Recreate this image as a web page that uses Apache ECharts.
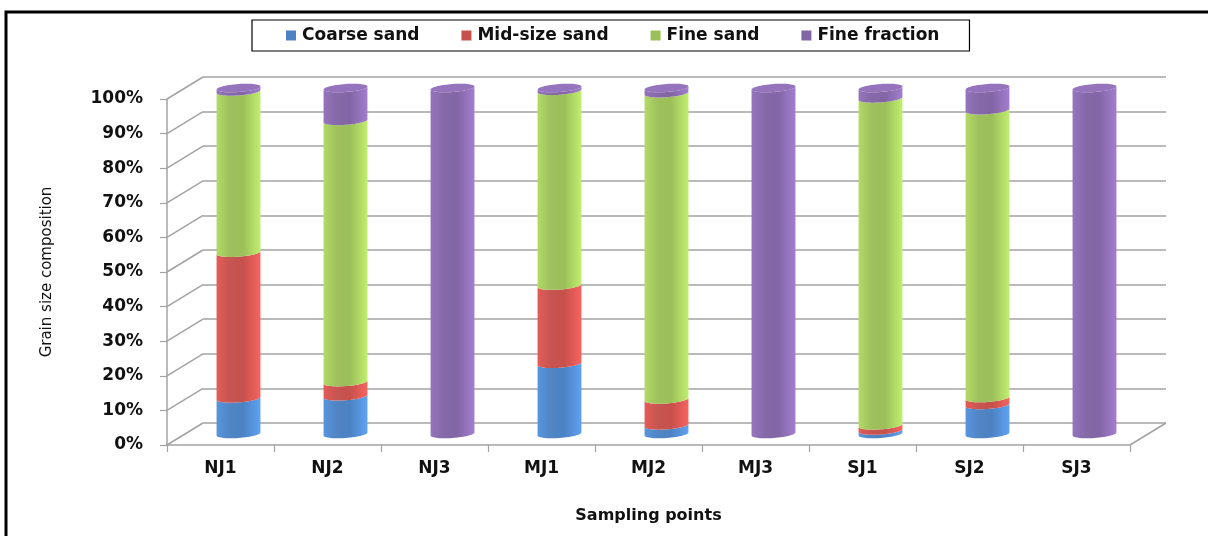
<!DOCTYPE html>
<html>
<head>
<meta charset="utf-8">
<script src="https://cdn.jsdelivr.net/npm/echarts@6/dist/echarts.min.js"></script>
<style>
  html, body { margin: 0; padding: 0; background: #fff; }
  #chart { width: 1208px; height: 536px; }
</style>
</head>
<body>
<div id="chart"></div>
<script>
// Sampling points and grain size shares (%)
const categories = ['NJ1', 'NJ2', 'NJ3', 'MJ1', 'MJ2', 'MJ3', 'SJ1', 'SJ2', 'SJ3'];
const coarseSand   = [10.3, 10.9, 0, 20.3, 2.5, 0, 1.0, 8.4, 0];
const midSizeSand  = [42.1, 4.1, 0, 22.6, 7.5, 0, 1.5, 2.0, 0];
const fineSand     = [46.6, 75.5, 0, 56.3, 88.5, 0, 94.5, 83.2, 0];
const fineFraction = [1.0, 9.5, 100, 0.8, 1.5, 100, 3.0, 6.4, 100];
const yTicks = [0, 10, 20, 30, 40, 50, 60, 70, 80, 90, 100];

const seriesDefs = [
  { name: 'Coarse sand',   values: coarseSand,   color: '#4C82C3' },
  { name: 'Mid-size sand', values: midSizeSand,  color: '#C6504C' },
  { name: 'Fine sand',     values: fineSand,     color: '#9BBF59' },
  { name: 'Fine fraction', values: fineFraction, color: '#8265A5' }
];

// Depth of the pseudo-3D box (back wall offset from the front plane)
const DX = 36, DY = -22;
const FRONT = { left: 167, right: 78, top: 99, bottom: 91 };
const BACK = { left: FRONT.left + DX, right: FRONT.right - DX, top: FRONT.top + DY, bottom: FRONT.bottom - DY };
const FONT = 'DejaVu Sans';
const GRID_COLOR = '#A3A3A3';

// Stack start/end per category
const stacks = [];
{
  const base = categories.map(() => 0);
  seriesDefs.forEach((s) => {
    const rows = [];
    s.values.forEach((v, i) => {
      if (v > 0) rows.push([i, base[i], base[i] + v]);
      base[i] += v;
    });
    stacks.push(rows);
  });
}
// last non-empty series per category gets the top cap
const topSeries = categories.map((c, i) => {
  let k = -1;
  seriesDefs.forEach((s, j) => { if (s.values[i] > 0) k = j; });
  return k;
});

const SHEAR = 0.07; // slight tilt of the elliptical edges
function arcPoints(cx, cy, rx, ry, from, to, n) {
  const pts = [];
  for (let k = 0; k <= n; k++) {
    const t = from + (to - from) * k / n;
    const x = cx + rx * Math.cos(t);
    const y = cy + ry * Math.sin(t) - (x - cx) * SHEAR;
    pts.push([x, y]);
  }
  return pts;
}

function shade(color) {
  return new echarts.graphic.LinearGradient(0, 0, 1, 0, [
    { offset: 0, color: echarts.color.lift(color, -0.15) },
    { offset: 0.3, color: echarts.color.lift(color, 0.03) },
    { offset: 0.6, color: color },
    { offset: 1, color: echarts.color.lift(color, -0.25) }
  ]);
}

function cylinderRenderer(seriesIndex) {
  const color = seriesDefs[seriesIndex].color;
  return function (params, api) {
    const cat = api.value(0);
    const start = api.value(1);
    const end = api.value(2);
    const cx = api.coord([cat, 0])[0] + DX / 2;
    const yb = api.coord([cat, start])[1] + DY / 2;
    const yt = api.coord([cat, end])[1] + DY / 2;
    const rx = api.size([1, 0])[0] * 0.205;
    const ry = 4;
    const pts = [[cx - rx, yt + rx * SHEAR]]
      .concat(arcPoints(cx, yb, rx, ry, Math.PI, 0, 30))
      .concat(arcPoints(cx, yt, rx, ry, 0, Math.PI, 30));
    const children = [{
      type: 'polygon',
      shape: { points: pts },
      style: { fill: shade(color) }
    }];
    if (topSeries[cat] === seriesIndex) {
      children.push({
        type: 'polygon',
        shape: { points: arcPoints(cx, yt, rx, ry, 0, Math.PI * 2, 60) },
        style: { fill: echarts.color.lift(color, -0.15) }
      });
    }
    return { type: 'group', children: children };
  };
}

const chart = echarts.init(document.getElementById('chart'), null, { renderer: 'canvas' });

const series = [
  // side-wall connectors and the floor edge
  {
    type: 'custom',
    xAxisIndex: 0, yAxisIndex: 0,
    silent: true,
    clip: false,
    z: 1,
    data: yTicks.map(v => [0, v]),
    renderItem: function (params, api) {
      const cs = params.coordSys;
      const v = api.value(1);
      const y = api.coord([0, v])[1];
      const children = [{
        type: 'line',
        shape: { x1: cs.x, y1: y, x2: cs.x + DX, y2: y + DY },
        style: { stroke: GRID_COLOR, lineWidth: 1.5 }
      }];
      if (v === 0) {
        children.push({
          type: 'line',
          shape: { x1: cs.x + cs.width, y1: y, x2: cs.x + cs.width + DX, y2: y + DY },
          style: { stroke: GRID_COLOR, lineWidth: 1.5 }
        });
      }
      return { type: 'group', children: children };
    }
  }
];

seriesDefs.forEach((s, idx) => {
  series.push({
    name: s.name,
    type: 'custom',
    xAxisIndex: 0, yAxisIndex: 0,
    clip: false,
    z: 5,
    itemStyle: { color: s.color },
    data: stacks[idx],
    renderItem: cylinderRenderer(idx)
  });
});

chart.setOption({
  animation: false,
  backgroundColor: '#fff',
  graphic: [{
    type: 'rect',
    shape: { x: 6, y: 12, width: 1260, height: 600 },
    style: { fill: null, stroke: '#000', lineWidth: 3 },
    z: 0
  }],
  legend: {
    left: 252, top: 20,
    data: seriesDefs.map(s => s.name),
    icon: 'rect',
    itemWidth: 10, itemHeight: 10,
    itemGap: 42,
    padding: [7, 30, 7, 34],
    borderColor: '#000', borderWidth: 1.2,
    textStyle: { fontFamily: FONT, fontWeight: 'bold', fontSize: 17, color: '#111', padding: [0, 0, 0, 1] }
  },
  grid: [
    { left: FRONT.left, right: FRONT.right, top: FRONT.top, bottom: FRONT.bottom },
    { left: BACK.left, right: BACK.right, top: BACK.top, bottom: BACK.bottom }
  ],
  xAxis: [
    {
      type: 'category', gridIndex: 0, data: categories,
      axisLine: { lineStyle: { color: GRID_COLOR, width: 1.5 } },
      axisTick: { show: true, length: 7, lineStyle: { color: GRID_COLOR, width: 1.2 } },
      axisLabel: { margin: 15, fontFamily: FONT, fontWeight: 'bold', fontSize: 17, color: '#111' },
      name: 'Sampling points', nameLocation: 'middle', nameGap: 63,
      nameTextStyle: { fontFamily: FONT, fontWeight: 'bold', fontSize: 16, color: '#111' }
    },
    {
      type: 'category', gridIndex: 1, data: categories, show: false
    }
  ],
  yAxis: [
    {
      type: 'value', gridIndex: 0, min: 0, max: 100, interval: 10,
      axisLine: { show: true, lineStyle: { color: GRID_COLOR, width: 1.5 } },
      axisTick: { show: true, length: 7, lineStyle: { color: GRID_COLOR, width: 1.2 } },
      splitLine: { show: false },
      axisLabel: { formatter: '{value}%', margin: 24, fontFamily: FONT, fontWeight: 'bold', fontSize: 17, color: '#111' },
      name: 'Grain size composition', nameLocation: 'middle', nameGap: 112, nameRotate: 90,
      nameTextStyle: { fontFamily: FONT, fontSize: 15, color: '#111' }
    },
    {
      type: 'value', gridIndex: 1, min: 0, max: 100, interval: 10,
      axisLine: { show: false }, axisTick: { show: false }, axisLabel: { show: false },
      splitLine: { show: true, lineStyle: { color: GRID_COLOR, width: 1.5 } }
    }
  ],
  series: series
});
</script>
</body>
</html>
